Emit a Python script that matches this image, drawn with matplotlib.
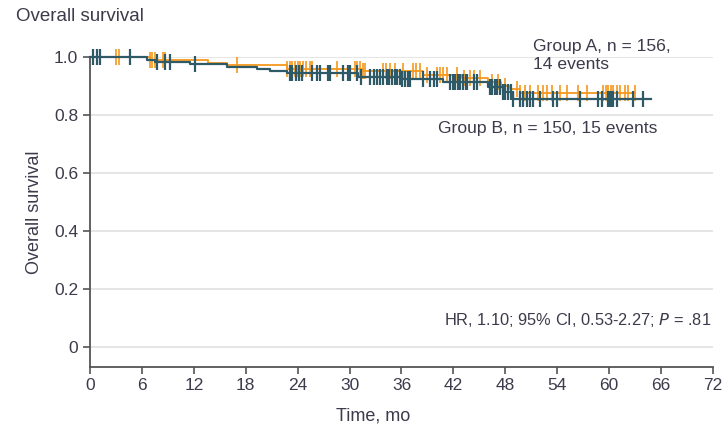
import numpy as np
import matplotlib
matplotlib.use("Agg")
import matplotlib.pyplot as plt

# Kaplan-Meier step curves (time in months, survival)
A_STEP_T = [0, 6.9, 13.6, 15.8, 22.8, 31.5, 38.5, 43.0, 46.0, 47.5, 48.5, 49.7, 63.0]
A_STEP_S = [1.0, 0.990, 0.980, 0.971, 0.960, 0.950, 0.938, 0.929, 0.915, 0.901, 0.888, 0.877, 0.877]
B_STEP_T = [0, 6.6, 7.5, 11.6, 15.8, 19.3, 20.8, 22.8, 31.0, 36.0, 40.8, 46.0, 47.7, 48.9, 64.8]
B_STEP_S = [1.0, 0.989, 0.982, 0.976, 0.964, 0.957, 0.951, 0.945, 0.931, 0.925, 0.913, 0.896, 0.880, 0.855, 0.855]

# censoring times
A_CENSOR = [0.4, 3.0, 3.4, 4.6, 6.9, 7.2, 7.5, 8.4, 8.7, 17.0, 22.8, 23.1, 23.4, 23.7,
            24.0, 24.3, 24.6, 25.0, 25.4, 25.7, 28.5, 30.6, 30.9, 31.2, 31.5, 31.8,
            33.9, 34.2, 34.7, 35.3, 36.2, 37.3, 37.7, 38.1, 39.0, 40.1, 40.4, 40.8,
            41.3, 42.4, 43.2, 43.9, 44.4, 45.1, 46.5, 47.2, 48.0, 49.3, 49.7, 50.3,
            50.8, 51.8, 52.4, 52.8, 53.4, 54.3, 55.1, 56.4, 57.4, 59.3, 59.6, 59.9,
            60.2, 60.4, 60.9, 61.3, 61.8, 62.2, 63.0]
B_CENSOR = [0.3, 0.8, 1.2, 4.6, 7.7, 8.7, 9.2, 12.1, 23.1, 23.4, 23.8, 24.1, 24.5,
            25.7, 26.2, 26.6, 27.5, 27.7, 29.2, 29.8, 30.0, 30.9, 31.3, 32.4, 32.8,
            33.2, 33.5, 33.9, 34.3, 34.6, 34.9, 35.2, 35.5, 35.8, 36.1, 36.4, 36.7,
            37.0, 38.5, 39.3, 39.7, 40.1, 41.6, 41.9, 42.2, 42.5, 42.8, 43.1, 43.4,
            43.6, 44.4, 44.7, 46.2, 46.5, 46.8, 47.0, 47.4, 47.7, 48.0, 48.3, 48.6,
            48.9, 49.7, 50.0, 50.5, 50.8, 51.2, 52.0, 53.5, 54.0, 56.6, 58.7, 59.2,
            59.9, 60.1, 60.2, 60.4, 60.9, 62.8, 63.9]

X_TICKS = list(range(0, 73, 6))
Y_TICKS = [0, 0.2, 0.4, 0.6, 0.8, 1.0]
Y_LABELS = ["0", "0.2", "0.4", "0.6", "0.8", "1.0"]

ORANGE = "#F5981E"
TEAL = "#2E5966"
TXT = "#3b3b4b"

plt.rcParams["font.family"] = ["Liberation Sans", "DejaVu Sans"]


def level_at(step_t, step_s, times):
    idx = np.searchsorted(step_t, times, side="right") - 1
    return np.asarray(step_s)[idx]


fig = plt.figure(figsize=(7.24, 4.26), dpi=100)
ax = fig.add_axes([0.1243, 0.1385, 0.8605, 0.7277])

for y in Y_TICKS:
    ax.axhline(y, color="#e3e3e3", lw=1.3, zorder=0)

for st, ss, cens, col, lw, mew in [(A_STEP_T, A_STEP_S, A_CENSOR, ORANGE, 1.3, 1.2),
                                   (B_STEP_T, B_STEP_S, B_CENSOR, TEAL, 1.6, 1.6)]:
    ax.step(st, ss, where="post", color=col, lw=lw, clip_on=False, zorder=3)
    ax.plot(cens, level_at(st, ss, cens), ls="none", marker="|", ms=12,
            mew=mew, color=col, clip_on=False, zorder=3)

ax.set_xlim(0, 72)
ax.set_ylim(-0.069, 1.0)
ax.set_xticks(X_TICKS)
ax.set_yticks(Y_TICKS)
ax.set_yticklabels(Y_LABELS)
for s in ["top", "right"]:
    ax.spines[s].set_visible(False)
for s in ["left", "bottom"]:
    ax.spines[s].set_color("#555555")
    ax.spines[s].set_linewidth(1.3)
ax.tick_params(colors="#555555", labelcolor=TXT, labelsize=12.5, length=5, width=1.2)
ax.tick_params(axis="x", pad=3)

ax.set_xlabel("Time, mo", fontsize=13, color=TXT, labelpad=7)
ax.xaxis.set_label_coords(0.454, -0.13)
ax.set_ylabel("Overall survival", fontsize=13, color=TXT, labelpad=8)
fig.text(0.022, 0.962, "Overall survival", fontsize=13.5, color=TXT, va="center")

ax.text(51.2, 1.005, "Group A, n = 156,\n14 events", fontsize=12.6, color=TXT,
        va="center", linespacing=1.3)
ax.text(40.2, 0.755, "Group B, n = 150, 15 events", fontsize=12.6, color=TXT, va="center")
ax.text(71.8, 0.093, "HR, 1.10; 95% CI, 0.53-2.27; $\\it{P}$ = .81", fontsize=11.8,
        color=TXT, ha="right", va="center")

fig.savefig("out.png", dpi=100)
